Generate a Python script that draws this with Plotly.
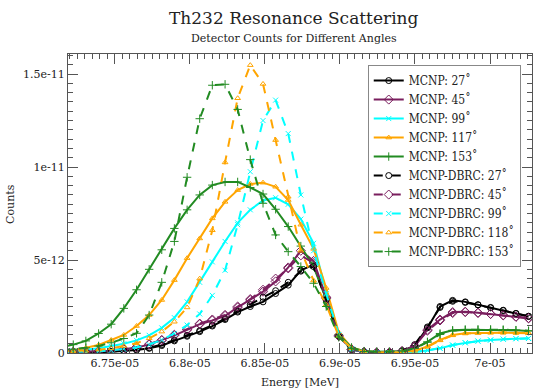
import plotly.graph_objects as go

# Energies in units of 1e-5 MeV
ENERGY_E5 = [6.7138, 6.7222, 6.7306, 6.7391, 6.7475, 6.7559, 6.7644, 6.7728, 6.7812, 6.7896,
             6.7981, 6.8065, 6.8149, 6.8234, 6.8318, 6.8402, 6.8487, 6.8571, 6.8655, 6.8739,
             6.8824, 6.8908, 6.8992, 6.9077, 6.9161, 6.9245, 6.9330, 6.9414, 6.9498, 6.9583,
             6.9667, 6.9751, 6.9835, 6.9920, 7.0004, 7.0088, 7.0173, 7.0257]

# Counts in units of 1e-12
MCNP_27 = [0.02, 0.02, 0.03, 0.05, 0.07, 0.1, 0.16, 0.25, 0.4, 0.65, 0.9, 1.15, 1.45, 1.8, 2.2, 2.5,
           2.75, 3.2, 3.65, 4.45, 4.75, 2.9, 0.95, 0.2, 0.04, 0.02, 0.03, 0.1, 0.4, 1.35, 2.5, 2.83,
           2.75, 2.6, 2.43, 2.3, 2.12, 1.96]
MCNP_45 = [0.04, 0.05, 0.06, 0.08, 0.12, 0.2, 0.3, 0.45, 0.68, 0.95, 1.24, 1.55, 1.75, 2.0, 2.45, 2.85,
           3.3, 3.85, 4.6, 5.5, 4.95, 3.0, 0.95, 0.2, 0.05, 0.03, 0.03, 0.1, 0.35, 1.25, 1.8, 2.2,
           2.22, 2.17, 2.1, 2.04, 1.95, 1.86]
MCNP_99 = [0.08, 0.12, 0.18, 0.26, 0.36, 0.5, 0.68, 0.95, 1.35, 1.9, 2.75, 3.8, 4.9, 6.0, 7.0, 7.7,
           8.2, 8.35, 8.0, 7.2, 5.9, 3.3, 0.95, 0.2, 0.04, 0.02, 0.02, 0.03, 0.06, 0.14, 0.25, 0.43,
           0.55, 0.65, 0.7, 0.75, 0.77, 0.79]
MCNP_117 = [0.1, 0.15, 0.28, 0.43, 0.7, 0.97, 1.45, 2.04, 2.85, 3.92, 5.1, 6.16, 7.24, 8.13, 8.76, 9.09,
            9.16, 8.94, 8.23, 6.9, 5.6, 3.5, 1.1, 0.3, 0.1, 0.05, 0.04, 0.05, 0.12, 0.35, 0.7, 0.97,
            1.06, 1.08, 1.09, 1.09, 1.08, 1.06]
MCNP_153 = [0.3, 0.45, 0.65, 1.05, 1.55, 2.4, 3.4, 4.5, 5.55, 6.7, 7.7, 8.5, 9.03, 9.2, 9.2, 8.9,
            8.55, 7.73, 6.8, 5.75, 4.65, 2.9, 1.0, 0.3, 0.1, 0.07, 0.07, 0.1, 0.25, 0.6, 1.05, 1.22,
            1.25, 1.25, 1.25, 1.24, 1.22, 1.18]
DBRC_27 = [0.02, 0.02, 0.03, 0.05, 0.08, 0.12, 0.18, 0.28, 0.45, 0.7, 0.95, 1.2, 1.5, 1.85, 2.25, 2.6,
           3.0, 3.35, 3.8, 4.4, 4.65, 2.85, 0.9, 0.18, 0.04, 0.02, 0.03, 0.12, 0.45, 1.4, 2.45, 2.78,
           2.72, 2.58, 2.45, 2.28, 2.13, 1.98]
DBRC_45 = [0.04, 0.05, 0.07, 0.09, 0.13, 0.21, 0.32, 0.48, 0.7, 0.98, 1.28, 1.58, 1.8, 2.05, 2.5, 2.9,
           3.4, 4.0, 4.55, 5.25, 4.85, 2.95, 0.9, 0.2, 0.05, 0.03, 0.03, 0.1, 0.38, 1.2, 1.75, 2.15,
           2.2, 2.15, 2.1, 2.02, 1.95, 1.88]
DBRC_99 = [0.04, 0.05, 0.07, 0.1, 0.14, 0.2, 0.3, 0.45, 0.7, 1.05, 1.5, 2.1, 3.1, 4.45, 6.9, 9.75,
           12.5, 13.6, 11.8, 8.5, 5.5, 3.2, 1.0, 0.22, 0.05, 0.02, 0.02, 0.03, 0.06, 0.14, 0.26, 0.42,
           0.55, 0.63, 0.7, 0.74, 0.77, 0.78]
DBRC_118 = [0.07, 0.1, 0.12, 0.18, 0.25, 0.38, 0.52, 0.79, 1.15, 1.68, 2.45, 4.0, 6.6, 10.25, 13.7, 15.48,
            14.47, 11.45, 8.4, 5.5, 3.9, 2.6, 0.9, 0.25, 0.08, 0.04, 0.04, 0.05, 0.12, 0.33, 0.68, 0.95,
            1.05, 1.08, 1.1, 1.1, 1.09, 1.07]
DBRC_153 = [0.15, 0.2, 0.28, 0.38, 0.55, 0.78, 1.06, 2.04, 3.8, 6.0, 9.45, 12.6, 14.4, 14.45, 13.1, 10.4,
            8.05, 6.35, 5.45, 4.65, 3.75, 2.5, 0.85, 0.25, 0.08, 0.06, 0.06, 0.1, 0.25, 0.58, 1.0, 1.2,
            1.25, 1.26, 1.26, 1.25, 1.23, 1.2]

SERIES_NAMES = ["MCNP: 27˚", "MCNP: 45˚", "MCNP: 99˚", "MCNP: 117˚", "MCNP: 153˚",
                "MCNP-DBRC: 27˚", "MCNP-DBRC: 45˚", "MCNP-DBRC: 99˚", "MCNP-DBRC: 118˚", "MCNP-DBRC: 153˚"]
SERIES_VALUES = [MCNP_27, MCNP_45, MCNP_99, MCNP_117, MCNP_153,
                 DBRC_27, DBRC_45, DBRC_99, DBRC_118, DBRC_153]

X_TICKVALS = [6.75e-5, 6.8e-5, 6.85e-5, 6.9e-5, 6.95e-5, 7e-5]
X_TICKTEXT = ["6.75e-05", "6.8e-05", "6.85e-05", "6.9e-05", "6.95e-05", "7e-05"]
Y_TICKVALS = [0, 5e-12, 1e-11, 1.5e-11]
Y_TICKTEXT = ["0", "5e-12", "1e-11", "1.5e-11"]

COLORS = ["#000000", "#7a1e5e", "#00ffff", "#ffa500", "#228b22"]
SYMBOLS = ["circle-open", "diamond-open", "x-thin-open", "triangle-up-open", "cross-thin-open"]
SIZES = [6, 7, 5, 5, 6]

FONT = "DejaVu Serif"
LEGEND_FONT = "DejaVu Serif Condensed, DejaVu Serif"

energy = [e * 1e-5 for e in ENERGY_E5]

fig = go.Figure()
for i, (name, vals) in enumerate(zip(SERIES_NAMES, SERIES_VALUES)):
    j = i % 5
    dashed = i >= 5
    fig.add_trace(go.Scatter(
        x=energy, y=[v * 1e-12 for v in vals], name=name, mode="lines+markers",
        line=dict(color=COLORS[j], width=2, dash="dash" if dashed else "solid"),
        marker=dict(symbol=SYMBOLS[j], size=SIZES[j], color=COLORS[j],
                    line=dict(color=COLORS[j], width=1)),
    ))

axis_common = dict(
    showline=True, linecolor="#555", linewidth=1, mirror="ticks",
    ticks="inside", ticklen=10, tickcolor="#555", tickwidth=1,
    showgrid=False, zeroline=False,
    tickfont=dict(family=FONT, size=11, color="#222"),
)

fig.update_xaxes(range=[6.7187e-5, 7.028e-5], tickmode="array",
                 tickvals=X_TICKVALS, ticktext=X_TICKTEXT,
                 minor=dict(dtick=5e-8, tick0=6.7e-5, ticklen=5, ticks="inside", tickcolor="#555"),
                 **axis_common)
fig.update_yaxes(range=[0, 1.608e-11], tickmode="array",
                 tickvals=Y_TICKVALS, ticktext=Y_TICKTEXT,
                 minor=dict(dtick=5e-13, tick0=0, ticklen=5, ticks="inside", tickcolor="#555"),
                 **axis_common)

fig.update_layout(
    width=535, height=392,
    margin=dict(l=68, r=3, t=54, b=39),
    paper_bgcolor="white", plot_bgcolor="white",
    font=dict(family=FONT, color="#222"),
    showlegend=True,
    legend=dict(x=0.646, y=0.963, xanchor="left", yanchor="top",
                bgcolor="white", bordercolor="#888", borderwidth=1,
                font=dict(family=LEGEND_FONT, size=12, color="#222"),
                itemwidth=30, tracegroupgap=0),
    annotations=[
        dict(text="Th232 Resonance Scattering", xref="paper", yref="paper",
             x=0.487, y=1.12, xanchor="center", yanchor="middle", showarrow=False,
             font=dict(family=FONT, size=17, color="#222")),
        dict(text="Detector Counts for Different Angles", xref="paper", yref="paper",
             x=0.487, y=1.0535, xanchor="center", yanchor="middle", showarrow=False,
             font=dict(family=FONT, size=11, color="#222")),
        dict(text="Energy [MeV]", xref="paper", yref="paper",
             x=0.5, y=-0.1, xanchor="center", yanchor="middle", showarrow=False,
             font=dict(family=FONT, size=11, color="#222")),
        dict(text="Counts", xref="paper", yref="paper", textangle=-90,
             x=-0.124, y=0.5, xanchor="center", yanchor="middle", showarrow=False,
             font=dict(family=FONT, size=11, color="#222")),
    ],
)

fig.write_html("out.html")
